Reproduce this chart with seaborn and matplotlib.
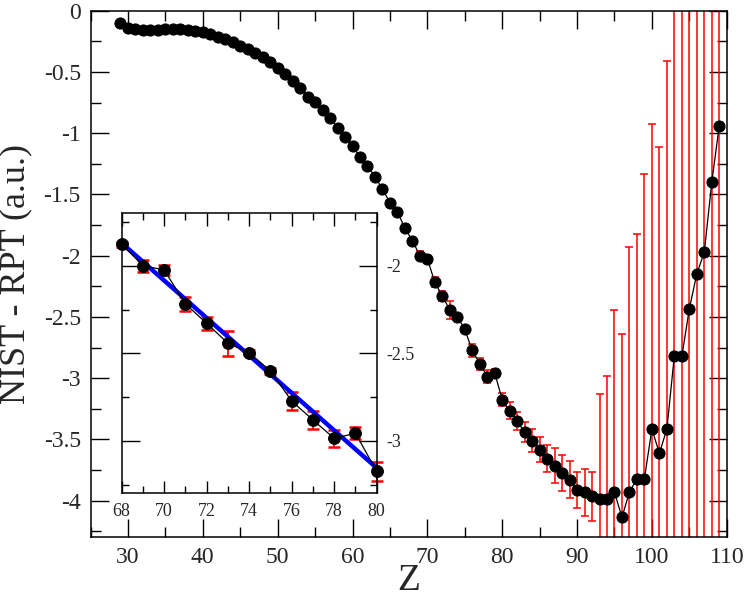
import matplotlib
matplotlib.use("Agg")
import matplotlib.pyplot as plt
import seaborn as sns
import pandas as pd
import numpy as np
from matplotlib.ticker import MultipleLocator, FuncFormatter

# NIST - RPT differences vs atomic number Z
z_vals = list(range(29, 110))
diff_vals = [
    -0.098, -0.139, -0.152, -0.157, -0.157, -0.157, -0.149, -0.152, -0.152, -0.160,
    -0.166, -0.176, -0.190, -0.212, -0.231, -0.258, -0.285, -0.312, -0.348, -0.380,
    -0.421, -0.470, -0.516, -0.571, -0.628, -0.701, -0.747, -0.810, -0.878, -0.954,
    -1.028, -1.104, -1.196, -1.267, -1.354, -1.457, -1.566, -1.642, -1.775, -1.877,
    -1.999, -2.024, -2.218, -2.329, -2.443, -2.497, -2.601, -2.773, -2.881, -2.986,
    -2.957, -3.175, -3.265, -3.352, -3.442, -3.510, -3.583, -3.657, -3.714, -3.773,
    -3.828, -3.915, -3.931, -3.964, -3.983, -3.985, -3.931, -4.135, -3.928, -3.822,
    -3.820, -3.414, -3.613, -3.414, -2.816, -2.822, -2.433, -2.148, -1.971, -1.400,
    -0.938,
]
err_vals = [0.0] * 38 + [
    0.030, 0.015, 0.034, 0.030, 0.041, 0.038, 0.071, 0.015, 0.015, 0.050,
    0.050, 0.050, 0.033, 0.055, 0.070, 0.073, 0.082, 0.095, 0.103, 0.109,
    0.145, 0.150, 0.150, 0.147, 0.194, 0.198, 0.854, 1.000, 1.490, 1.500,
    2.000, 2.000, 2.490, 2.490, 2.500, 3.000, 3.500, 3.500, 4.000, 4.000,
    4.500, 4.500, 5.000,
]

# linear fit shown in the inset (end points)
fit_z = [68, 80]
fit_y = [-1.870, -3.155]

df = pd.DataFrame({"Z": z_vals, "diff": diff_vals, "err": err_vals})
sub = df[(df["Z"] >= 68) & (df["Z"] <= 80)]

sns.set_style("ticks")
plt.rcParams["font.family"] = ["Liberation Serif", "DejaVu Serif"]

fig = plt.figure(figsize=(7.47, 6.01), dpi=100)
ax = fig.add_axes([0.1212, 0.1057, 0.8517, 0.8765])

ax.errorbar(df["Z"], df["diff"], yerr=df["err"], fmt="none", ecolor="#ff0000",
            elinewidth=1.1, capsize=3.2, capthick=1.1, zorder=1)
sns.lineplot(data=df, x="Z", y="diff", ax=ax, color="black", linewidth=0.9,
             marker="o", markersize=8, markeredgecolor="black", zorder=2)

ax.set_xlim(25, 110)
ax.set_ylim(-4.3, 0)
ax.xaxis.set_major_locator(MultipleLocator(10))
ax.xaxis.set_minor_locator(MultipleLocator(5))
ax.yaxis.set_major_locator(MultipleLocator(0.5))
ax.yaxis.set_minor_locator(MultipleLocator(0.25))
ax.yaxis.set_major_formatter(FuncFormatter(lambda v, p: f"{v:g}"))
ax.tick_params(which="both", direction="in", top=True, right=True, width=1.0,
               color="black", labelsize=17)
ax.tick_params(which="major", length=13, pad=7)
ax.tick_params(which="minor", length=7)
for s in ax.spines.values():
    s.set_linewidth(1.1)
    s.set_color("black")
ax.set_xlabel("Z", fontsize=27)
ax.set_ylabel("NIST - RPT (a.u.)", fontsize=26)
ax.xaxis.set_label_coords(0.5, -0.05)
ax.yaxis.set_label_coords(-0.092, 0.5)

# inset
ins = fig.add_axes([0.1629, 0.1792, 0.3414, 0.4659])
ins.set_facecolor("white")
ins.errorbar(sub["Z"], sub["diff"], yerr=sub["err"], fmt="none", ecolor="#ff0000",
             elinewidth=1.3, capsize=4, capthick=1.8, zorder=1, clip_on=False)
sns.lineplot(data=sub, x="Z", y="diff", ax=ins, color="black", linewidth=0.9,
             marker="o", markersize=8.5, markeredgecolor="black", zorder=3,
             clip_on=False)
sns.lineplot(x=fit_z, y=fit_y, ax=ins, color="#0000ff", linewidth=3.2, zorder=2)
ins.set_xlim(68, 80)
ins.set_ylim(-3.3, -1.7)
ins.xaxis.set_major_locator(MultipleLocator(2))
ins.xaxis.set_minor_locator(MultipleLocator(1))
ins.yaxis.set_major_locator(MultipleLocator(0.5))
ins.yaxis.set_minor_locator(MultipleLocator(0.25))
ins.yaxis.set_major_formatter(FuncFormatter(lambda v, p: f"{v:g}"))
ins.tick_params(which="both", direction="in", top=True, right=True, left=True,
                labelleft=False, labelright=True, width=1.0, color="black",
                labelsize=13)
ins.tick_params(which="major", length=9, pad=7)
ins.tick_params(which="minor", length=5)
ins.tick_params(axis="y", which="major", length=13)
for s in ins.spines.values():
    s.set_linewidth(1.1)
    s.set_color("black")
ins.set_xlabel("")
ins.set_ylabel("")

fig.savefig("out.png", dpi=100)
